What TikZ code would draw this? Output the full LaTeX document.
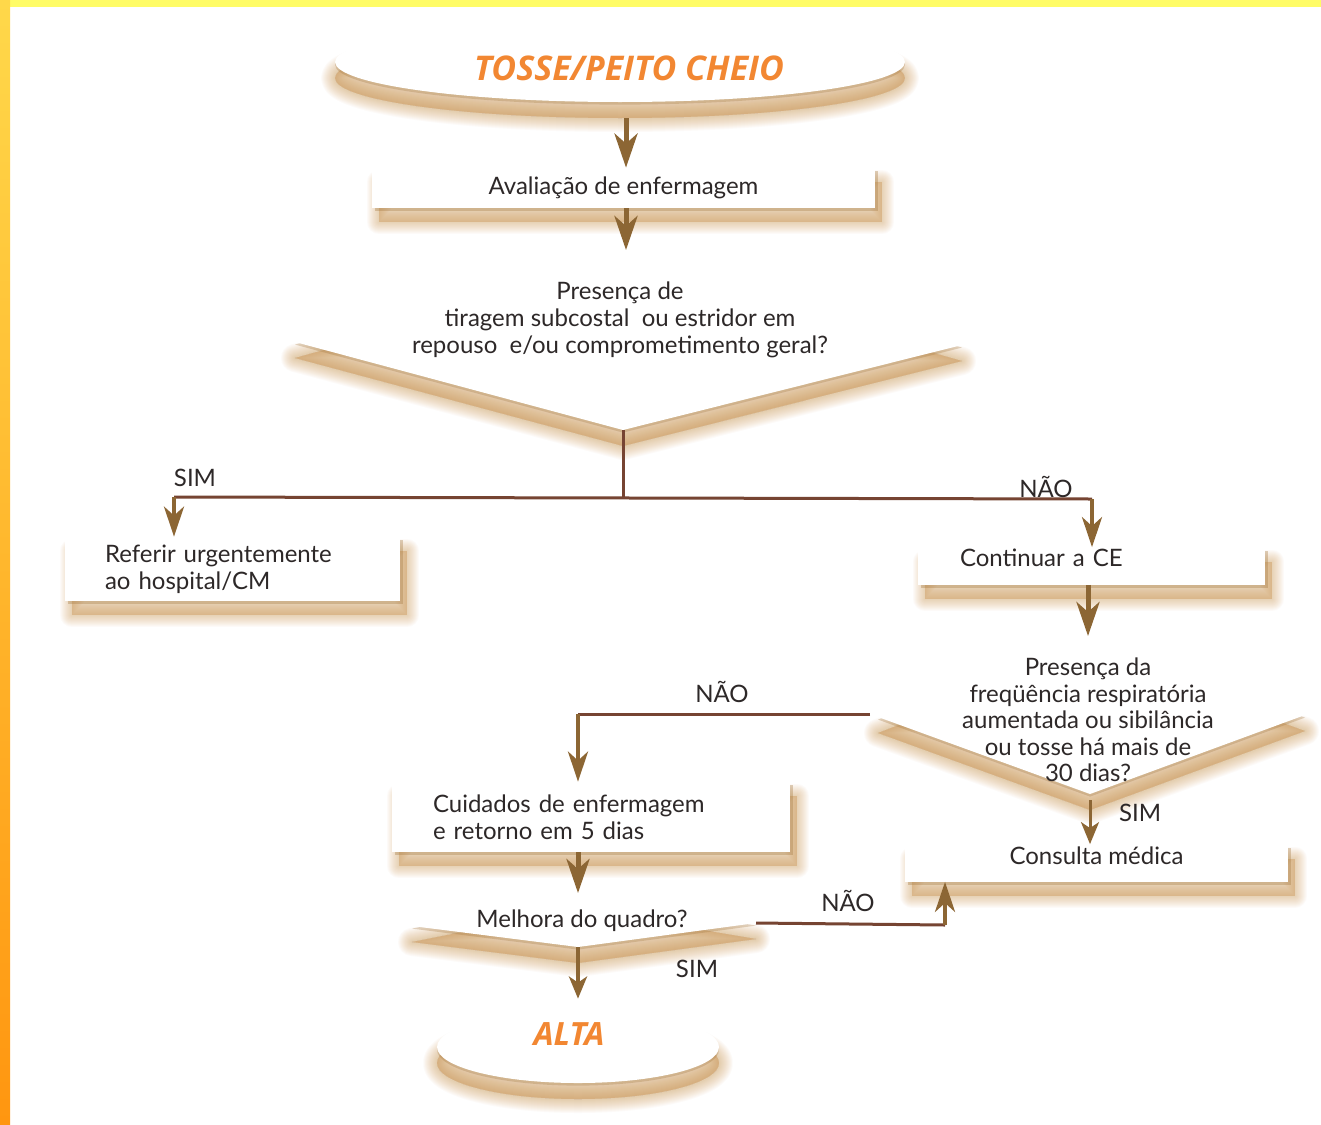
\documentclass[tikz,border=0pt]{standalone}
\usepackage{fontspec}
\setmainfont{Lato}
\newfontfamily\headfont{Open Sans}
\usetikzlibrary{arrows.meta,shadows,shapes.geometric}

\definecolor{arrowbrown}{RGB}{140,102,52}
\definecolor{linebrown}{RGB}{118,68,50}
\definecolor{shadowtan}{RGB}{205,150,80}
\definecolor{titleorange}{RGB}{242,135,50}
\definecolor{inkgray}{RGB}{45,40,40}
\definecolor{bandyellow}{RGB}{255,252,102}
\definecolor{bandgold}{RGB}{255,216,74}
\definecolor{bandorange}{RGB}{255,150,16}

\tikzset{
  body/.style={font=\fontsize{12}{13.5}\selectfont, text=inkgray},
  % one layer of a soft shadow: the outline stroked with the given width
  panellayer/.style={general shadow={fill=shadowtan, draw=shadowtan, line join=round,
      opacity=0.04, line width=#1pt, shadow xshift=3.5pt, shadow yshift=-7pt}},
  droplayer/.style={general shadow={fill=shadowtan, draw=shadowtan, line join=round,
      opacity=0.04, line width=#1pt, shadow yshift=-8pt}},
  % soft tan shadow falling below and to the right of a panel
  softshadow/.style={panellayer/.list={12,11,10,9,8,7,6,5,4,3,2,1},
    general shadow={fill=shadowtan!80!black, opacity=0.35, shadow xshift=1.3pt, shadow yshift=-1.5pt}},
  % shadow falling straight down, for the decision shapes and terminals
  dropshadow/.style={droplayer/.list={14,13,12,11,10,9,8,7,6,5,4,3,2,1},
    general shadow={fill=shadowtan!80!black, opacity=0.3, shadow yshift=-1.3pt}},
  panel/.style={rectangle, fill=white, inner sep=0pt, body, softshadow},
  terminal/.style={ellipse, fill=white, inner sep=0pt, dropshadow},
  headline/.style={font=\headfont\bfseries\itshape\fontsize{16}{18}\selectfont, text=titleorange},
  bigarrow/.style={draw=arrowbrown, line width=2.5pt, -{Stealth[length=17pt,width=11.5pt,inset=5pt]}},
  midarrow/.style={draw=arrowbrown, line width=2pt, -{Stealth[length=15pt,width=10pt,inset=4.5pt]}},
  smallarrow/.style={draw=arrowbrown, line width=1.5pt, -{Stealth[length=11pt,width=9pt,inset=3pt]}},
  rule/.style={draw=linebrown, line width=1.5pt},
  answer/.style={body},
}

\begin{document}
\begin{tikzpicture}[x=0.5pt,y=-0.5pt]
\useasboundingbox (0,0) rectangle (1321,1124);
\fill[white] (0,0) rectangle (1321,1124);

% start and end terminals
\node[terminal, minimum width=285pt, minimum height=40pt] (start) at (620,62) {};
\node[headline, font=\headfont\bfseries\itshape\fontsize{17}{19}\selectfont] (starttext) at (629,68) {TOSSE/PEITO CHEIO};

\node[terminal, minimum width=141pt, minimum height=36pt] (finish) at (578,1047) {};
\node[headline] (finishtext) at (569,1034) {ALTA};

% decision shapes
\coordinate (d1t) at (626,250);
\coordinate (d1l) at (295,342);
\coordinate (d1b) at (623,430);
\coordinate (d1r) at (962,345);
\path[fill=white, dropshadow] (d1t) -- (d1r) -- (d1b) -- (d1l) -- cycle;
\node[body, align=center] (q1) at (620,320)
  {Presença de\\tiragem subcostal\ \ ou estridor em\\repouso\ \ e/ou comprometimento geral?};

\coordinate (d2t) at (1088,636);
\coordinate (d2l) at (878,717);
\coordinate (d2b) at (1090,794);
\coordinate (d2r) at (1305,715);
\path[fill=white, dropshadow] (d2t) -- (d2r) -- (d2b) -- (d2l) -- cycle;
\node[body, align=center, font=\fontsize{12}{13.25}\selectfont] (q2) at (1088,720)
  {Presença da\\freqüência respiratória\\aumentada ou sibilância\\ou tosse há mais de\\30 dias?};

\coordinate (d3t) at (578,893);
\coordinate (d3l) at (412,926);
\coordinate (d3b) at (578,947);
\coordinate (d3r) at (756,923);
\path[fill=white, dropshadow] (d3t) -- (d3r) -- (d3b) -- (d3l) -- cycle;
\node[body] (q3) at (582,921) {Melhora do quadro?};

% action panels
\node[panel, minimum width=251.5pt, minimum height=20pt] (eval) at (623.5,188)
  {Avaliação de enfermagem};
\node[panel, minimum width=167.5pt, minimum height=32pt, inner xsep=20pt, text width=127.5pt, align=left] (refer) at (232.5,569)
  {Referir urgentemente\\ao hospital/CM};
\node[panel, minimum width=173.5pt, minimum height=18.5pt, inner xsep=21pt, text width=131.5pt, align=left, text depth=8pt] (cont) at (1091.5,566)
  {Continuar a CE};
\node[panel, minimum width=199pt, minimum height=35pt, inner xsep=20.5pt, text width=158pt, align=left] (care) at (591,817)
  {Cuidados de enfermagem\\e retorno em 5 dias};
\node[panel, minimum width=191.5pt, minimum height=18.5pt, text depth=7pt] (consult) at (1096.5,863)
  {Consulta médica};

% junction points of the connectors
\coordinate (j1) at (623,497);
\coordinate (cL) at (174,497);
\coordinate (cR) at (1092,499);
\coordinate (c2) at (578,714);
\coordinate (c3) at (945,925);

% main flow
\draw[bigarrow, shorten <=8pt] (start.south -| d1t) -- (eval.north -| d1t);
\draw[bigarrow] (eval.south -| d1t) -- (d1t);

% first decision
\draw[rule] (d1b) -- (j1);
\draw[rule] (cL) -- (cR);
\draw[midarrow] (cL) -- (refer.north -| cL);
\draw[midarrow] (cR) -- (cont.north -| cR);
\node[answer] (sim1) at (195,478) {SIM};
\node[answer] (nao1) at (1046,487) {NÃO};

% second decision
\draw[bigarrow] (cont.south -| d2t) -- (d2t);
\draw[rule] ([xshift=-4pt]d2l |- c2) -- (c2);
\draw[midarrow] (c2) -- (care.north -| c2);
\draw[smallarrow, shorten <=3pt] (d2b) -- (consult.north -| d2b);
\node[answer] (nao2) at (722,692) {NÃO};
\node[answer] (sim2) at (1140,813) {SIM};

% third decision
\draw[bigarrow] (care.south -| d3t) -- (d3t);
\draw[rule] (d3r) -- (c3);
\draw[midarrow] (c3) -- (consult.south -| c3);
\draw[smallarrow, line width=2pt, shorten >=6pt] (d3b) -- (finish.north -| d3b);
\node[answer] (nao3) at (848,901) {NÃO};
\node[answer] (sim3) at (697,969) {SIM};

% frame bands
\fill[bandyellow] (0,0) rectangle (1321,7);
\shade[top color=bandgold, middle color=bandgold!80!bandorange, bottom color=bandorange] (0,0) rectangle (10,1124);
\end{tikzpicture}
\end{document}
